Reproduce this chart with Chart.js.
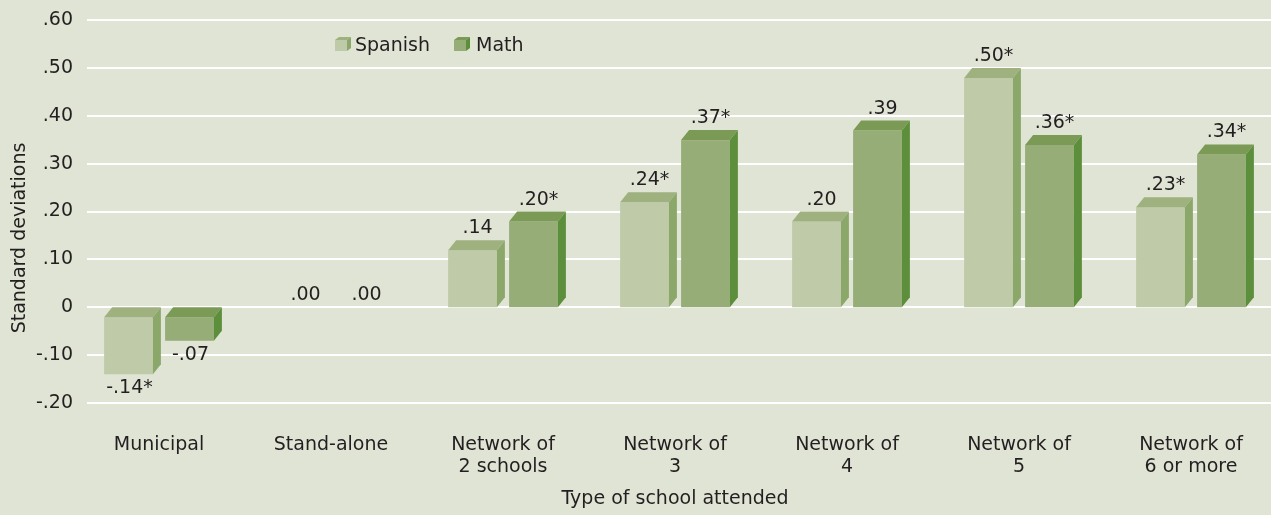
<!DOCTYPE html>
<html>
<head>
<meta charset="utf-8">
<script src="https://cdn.jsdelivr.net/npm/chart.js@4.4.1/dist/chart.umd.min.js"></script>
<style>
  html, body { margin: 0; padding: 0; background: #dfe4d5; overflow: hidden; }
  #chart { display: block; }
</style>
</head>
<body>
<canvas id="chart" width="1280" height="515"></canvas>
<script>
const categories = [['Municipal'], ['Stand-alone'], ['Network of', '2 schools'], ['Network of', '3'], ['Network of', '4'], ['Network of', '5'], ['Network of', '6 or more']];
const spanishValues = [-0.14, 0.00, 0.14, 0.24, 0.20, 0.50, 0.23];
const mathValues = [-0.07, 0.00, 0.20, 0.37, 0.39, 0.36, 0.34];
const spanishLabels = ['-.14*', '.00', '.14', '.24*', '.20', '.50*', '.23*'];
const mathLabels = ['-.07', '.00', '.20*', '.37*', '.39', '.36*', '.34*'];
const yTicks = [-0.2, -0.1, 0, 0.1, 0.2, 0.3, 0.4, 0.5, 0.6];
const yTickLabels = ['-.20', '-.10', '0', '.10', '.20', '.30', '.40', '.50', '.60'];

const FONT = 'DejaVu Sans';
const TEXT = '#231f20';
const DX = 8, DY = 10;
const faces = [
    { front: '#bfcaa9', top: '#9fb17f', side: '#8ba86a' },
    { front: '#97ad78', top: '#7a9a55', side: '#5d8e3c' }
];
const valueLabels = [spanishLabels, mathLabels];

Chart.defaults.font.family = FONT;
Chart.defaults.font.size = 19;
Chart.defaults.color = TEXT;

function poly(ctx, pts, color) {
    ctx.fillStyle = color;
    ctx.beginPath();
    ctx.moveTo(pts[0][0], pts[0][1]);
    pts.slice(1).forEach(p => ctx.lineTo(p[0], p[1]));
    ctx.closePath();
    ctx.fill();
}

function cube(ctx, l, t, r, b, dx, dy, c) {
    ctx.fillStyle = c.front;
    ctx.fillRect(l, t, r - l, b - t);
    poly(ctx, [[l, t], [l + dx, t - dy], [r + dx, t - dy], [r, t]], c.top);
    poly(ctx, [[r, t], [r + dx, t - dy], [r + dx, b - dy], [r, b]], c.side);
}

const bars3d = {
    id: 'bars3d',
    beforeDatasetsDraw(chart) {
        const { ctx, scales: { y } } = chart;
        ctx.save();
        ctx.strokeStyle = '#ffffff';
        ctx.lineWidth = 2;
        yTicks.forEach(v => {
            const py = Math.round(y.getPixelForValue(v));
            ctx.beginPath();
            ctx.moveTo(87, py);
            ctx.lineTo(chart.width, py);
            ctx.stroke();
        });
        ctx.restore();
    },
    afterDatasetsDraw(chart) {
        const { ctx } = chart;
        ctx.save();
        chart.data.datasets.forEach((ds, di) => {
            const meta = chart.getDatasetMeta(di);
            meta.data.forEach((bar, i) => {
                const { x, y, base, width } = bar.getProps(['x', 'y', 'base', 'width'], true);
                const l = x - width / 2, r = x + width / 2;
                if (Math.abs(y - base) > 0.5) {
                    const top = Math.min(y, base) + DY;
                    const bot = Math.max(y, base);
                    cube(ctx, l, top, r, bot, DX, DY, faces[di]);
                }
                ctx.fillStyle = TEXT;
                ctx.font = '19px "' + FONT + '"';
                ctx.textAlign = 'center';
                ctx.textBaseline = 'alphabetic';
                if (y > base + 0.5) {
                    ctx.fillText(valueLabels[di][i], x + 1, y + 19);
                } else {
                    ctx.fillText(valueLabels[di][i], x + 5, y - 7);
                }
            });
        });
        ctx.restore();
    },
    afterDraw(chart) {
        const { ctx, chartArea } = chart;
        ctx.save();
        // legend
        ctx.font = '19px "' + FONT + '"';
        ctx.textAlign = 'left';
        ctx.textBaseline = 'alphabetic';
        const items = [['Spanish', 335, 355], ['Math', 454, 476]];
        items.forEach((it, k) => {
            cube(ctx, it[1], 40, it[1] + 12, 51, 4, 3, faces[k]);
            ctx.fillStyle = TEXT;
            ctx.fillText(it[0], it[2], 51);
        });
        // y axis title
        ctx.translate(20, 238);
        ctx.rotate(-Math.PI / 2);
        ctx.textAlign = 'center';
        ctx.textBaseline = 'middle';
        ctx.fillStyle = TEXT;
        ctx.fillText('Standard deviations', 0, 0);
        ctx.restore();
    }
};

new Chart(document.getElementById('chart'), {
    type: 'bar',
    data: {
        labels: categories,
        datasets: [
            { label: 'Spanish', data: spanishValues, backgroundColor: 'rgba(0,0,0,0)', borderWidth: 0 },
            { label: 'Math', data: mathValues, backgroundColor: 'rgba(0,0,0,0)', borderWidth: 0 }
        ]
    },
    options: {
        responsive: false,
        animation: false,
        categoryPercentage: 0.709,
        barPercentage: 0.8,
        layout: { padding: { top: 20, right: 3, bottom: 0, left: 0 } },
        plugins: { legend: { display: false }, tooltip: { enabled: false } },
        scales: {
            x: {
                grid: { display: false },
                border: { display: false },
                ticks: { padding: 23, font: { size: 19, lineHeight: 1.16 }, maxRotation: 0, autoSkip: false },
                title: { display: true, text: 'Type of school attended', font: { size: 19, lineHeight: 1.1 }, padding: { top: 0, bottom: 5 } },
                afterFit: scale => { scale.height = 112; }
            },
            y: {
                min: -0.2, max: 0.6,
                grid: { display: false, drawTicks: false },
                border: { display: false },
                ticks: { stepSize: 0.1, padding: 0, callback: (v, i) => yTickLabels[i] },
                afterFit: scale => { scale.width = 73; }
            }
        }
    },
    plugins: [bars3d]
});
</script>
</body>
</html>
